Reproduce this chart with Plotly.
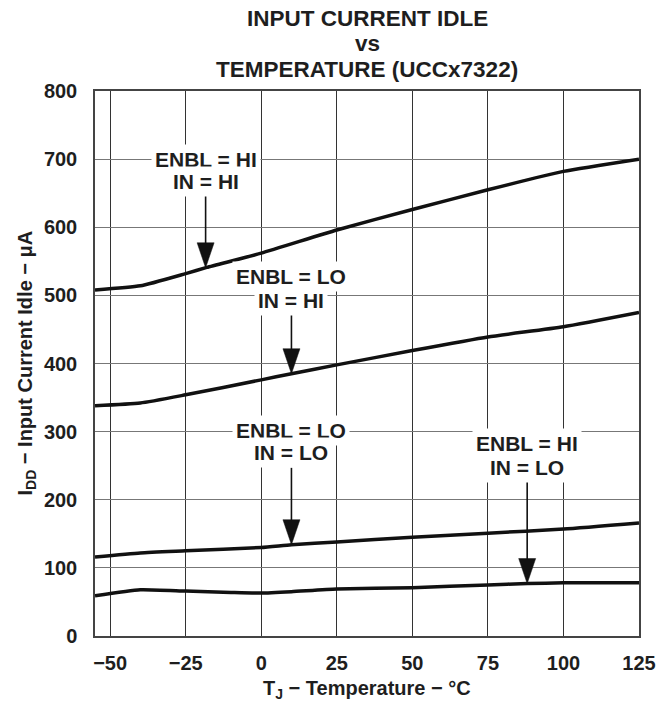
import numpy as np
import plotly.graph_objects as go

# ---- data ----
temp_hi_hi = [-55, -40, -25, -18, 0, 25, 50, 75, 100, 125]
idd_hi_hi = [508, 514, 532, 541, 562, 596, 626, 655, 682, 700]

temp_lo_hi = [-55, -40, -25, 0, 10, 25, 50, 75, 100, 125]
idd_lo_hi = [338, 342, 354, 376, 385, 398, 419, 439, 454, 475]

temp_lo_lo = [-55, -40, -25, 0, 10, 25, 50, 75, 100, 125]
idd_lo_lo = [116, 122, 125, 130, 134, 138, 145, 151, 157, 166]

temp_hi_lo = [-55, -40, -25, -10, 0, 10, 25, 50, 75, 88, 100, 125]
idd_hi_lo = [59, 68, 66, 64, 63, 65, 69, 71, 75, 77, 78, 78]

x_ticks = [-50, -25, 0, 25, 50, 75, 100, 125]
x_tick_text = ["\u221250", "\u221225", "0", "25", "50", "75", "100", "125"]
y_ticks = [0, 100, 200, 300, 400, 500, 600, 700, 800]

labels = ["ENBL = HI|IN = HI", "ENBL = LO|IN = HI", "ENBL = LO|IN = LO", "ENBL = HI|IN = LO"]

FONT = "Liberation Sans, Arial, sans-serif"
TXT = "#1e1e1e"

fig = go.Figure()
series = [(temp_hi_hi, idd_hi_hi), (temp_lo_hi, idd_lo_hi),
          (temp_lo_lo, idd_lo_lo), (temp_hi_lo, idd_hi_lo)]
for tx, ty in series:
    fig.add_trace(go.Scatter(x=tx, y=ty, mode="lines",
                             line=dict(color="#111111", width=3.5, shape="spline", smoothing=0.5),
                             showlegend=False, hoverinfo="skip"))

# label / arrow layout: (series index, label center x, label line-1 y, line-2 y, arrow tip x, tail length px)
callouts = [
    (0, -18.4, 700, 667, -18.4, 72),
    (1, 10, 527, 492, 10, 62),
    (2, 10, 302, 269, 10, 77),
    (3, 88, 283, 248, 88, 104),
]
annotations = []
shapes = []
for i, (si, lx, ly1, ly2, tipx, length) in enumerate(callouts):
    l1, l2 = labels[i].split("|")
    for txt, ly in ((l1, ly1), (l2, ly2)):
        annotations.append(dict(x=lx, y=ly, xref="x", yref="y", text=txt, showarrow=False,
                                font=dict(family=FONT, size=21, color=TXT, weight="bold"),
                                bgcolor="white", borderpad=3, xanchor="center", yanchor="middle"))
    tx, ty = series[si]
    tipy = float(np.interp(tipx, tx, ty))
    shapes.append(dict(type="path", xref="x", yref="y", xsizemode="pixel", ysizemode="pixel",
                       xanchor=tipx, yanchor=tipy,
                       path=f"M 0,20 L 0,{length}",
                       line=dict(color="#111111", width=1.6)))
    shapes.append(dict(type="path", xref="x", yref="y", xsizemode="pixel", ysizemode="pixel",
                       xanchor=tipx, yanchor=tipy,
                       path="M -8.5,25 L 8.5,25 L 0,0 Z",
                       fillcolor="#111111", line=dict(color="#111111", width=0.5)))

# titles
def py(pix):
    return (636 - pix) / 545.0

for txt, ypix in (("INPUT CURRENT IDLE", 18), ("vs", 44), ("TEMPERATURE (UCCx7322)", 69)):
    annotations.append(dict(x=0.5, y=py(ypix), xref="paper", yref="paper", text=txt, showarrow=False,
                            font=dict(family=FONT, size=22.5, color=TXT, weight="bold"),
                            borderpad=0, xanchor="center", yanchor="middle"))

annotations.append(dict(x=0.5, y=py(689), xref="paper", yref="paper",
                        text="T<sub>J</sub> \u2212 Temperature \u2212 \u00b0C", showarrow=False,
                        font=dict(family=FONT, size=20, color=TXT, weight="bold"),
                        xanchor="center", yanchor="middle"))
annotations.append(dict(x=(26 - 95) / 544.0, y=0.5, xref="paper", yref="paper",
                        text="I<sub>DD</sub> \u2212 Input Current Idle \u2212 \u03bcA", showarrow=False,
                        textangle=-90,
                        font=dict(family=FONT, size=20, color=TXT, weight="bold"),
                        xanchor="center", yanchor="middle"))

fig.update_layout(
    width=670, height=705,
    margin=dict(l=95, r=31, t=91, b=69),
    paper_bgcolor="white", plot_bgcolor="white",
    annotations=annotations, shapes=shapes,
    showlegend=False,
)
fig.update_xaxes(range=[-55, 125], tickvals=x_ticks, ticktext=x_tick_text,
                 showgrid=True, gridcolor="#333333", gridwidth=1,
                 showline=True, linecolor="#444444", linewidth=1.5, mirror=True,
                 ticks="", ticklabelstandoff=8, zeroline=False,
                 tickfont=dict(family=FONT, size=20, color=TXT, weight="bold"))
fig.update_yaxes(range=[0, 800], tickvals=y_ticks,
                 showgrid=True, gridcolor="#777777", gridwidth=1,
                 showline=True, linecolor="#444444", linewidth=1.5, mirror=True,
                 ticks="", ticklabelstandoff=12, zeroline=False,
                 tickfont=dict(family=FONT, size=20, color=TXT, weight="bold"))

fig.write_html("out.html", config={"displayModeBar": False},
               post_script="document.body.style.margin='0';document.body.style.overflow='hidden';")
